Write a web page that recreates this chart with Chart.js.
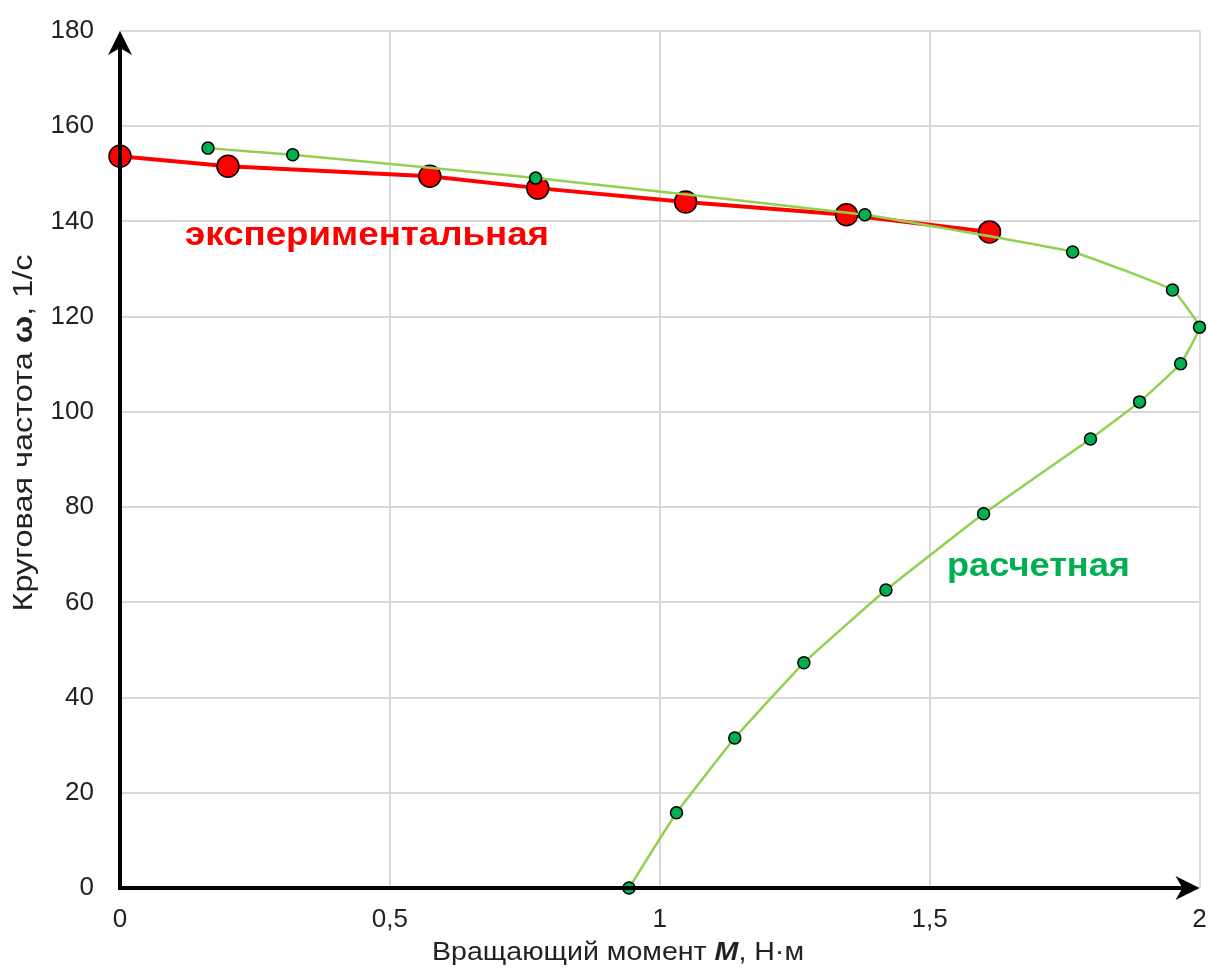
<!DOCTYPE html>
<html>
<head>
<meta charset="utf-8">
<script src="https://cdn.jsdelivr.net/npm/chart.js@4/dist/chart.umd.min.js"></script>
<style>
html,body{margin:0;padding:0;background:#fff;overflow:hidden;}
#wrap{width:1208px;height:969px;position:relative;overflow:hidden;}
</style>
</head>
<body>
<div id="wrap"><canvas id="c" width="1212" height="969"></canvas></div>
<script>
const expM = [0, 0.2, 0.574, 0.774, 1.048, 1.346, 1.611];
const expW = [153.7, 151.6, 149.5, 147.0, 144.1, 141.4, 137.8];
const calcM = [0.163, 0.320, 0.770, 1.380, 1.765, 1.950, 2.0, 1.965, 1.889, 1.798, 1.600, 1.419, 1.267, 1.139, 1.031, 0.943];
const calcW = [155.4, 154.0, 149.1, 141.4, 133.6, 125.6, 117.8, 110.1, 102.1, 94.3, 78.6, 62.6, 47.3, 31.5, 15.8, 0];
const xTicks = [0, 0.5, 1, 1.5, 2];
const yTicks = [0, 20, 40, 60, 80, 100, 120, 140, 160, 180];
const labelExp = 'экспериментальная';
const labelCalc = 'расчетная';
const xTitleParts = [['Вращающий момент ', ''], ['M', 'bold italic '], [', Н·м', '']];
const yTitleParts = [['Круговая частота ', ''], ['ω', 'bold '], [', 1/с', '']];

const font = 'Liberation Sans, Arial, sans-serif';

function drawParts(ctx, parts, size, cx, cy, targetW) {
  let w = 0;
  const widths = parts.map(([t, st]) => { ctx.font = st + size + 'px ' + font; const m = ctx.measureText(t).width; w += m; return m; });
  const s = targetW / w;
  ctx.save();
  ctx.translate(cx, cy);
  ctx.scale(s, 1);
  let x = -w / 2;
  ctx.textBaseline = 'middle';
  ctx.textAlign = 'left';
  parts.forEach(([t, st], i) => { ctx.font = st + size + 'px ' + font; ctx.fillText(t, x, 0); x += widths[i]; });
  ctx.restore();
}

function drawScaled(ctx, text, fnt, x, y, targetW, color) {
  ctx.save();
  ctx.font = fnt;
  const w = ctx.measureText(text).width;
  ctx.translate(x, y);
  ctx.scale(targetW / w, 1);
  ctx.fillStyle = color;
  ctx.textBaseline = 'middle';
  ctx.textAlign = 'left';
  ctx.fillText(text, 0, 0);
  ctx.restore();
}

const arrowsPlugin = {
  id: 'arrows',
  afterDatasetsDraw(chart) {
    const {ctx, chartArea: a, scales: {x, y}} = chart;
    const x0 = x.getPixelForValue(0), y0 = y.getPixelForValue(0);
    ctx.save();
    ctx.strokeStyle = '#000';
    ctx.fillStyle = '#000';
    ctx.lineWidth = 4;
    ctx.beginPath();
    ctx.moveTo(x0, y0 + 2);
    ctx.lineTo(x0, a.top + 6);
    ctx.moveTo(x0 - 2, y0);
    ctx.lineTo(a.right - 6, y0);
    ctx.stroke();
    ctx.beginPath();
    ctx.moveTo(x0, a.top);
    ctx.lineTo(x0 - 12, a.top + 24);
    ctx.lineTo(x0, a.top + 17);
    ctx.lineTo(x0 + 12, a.top + 24);
    ctx.closePath();
    ctx.fill();
    ctx.beginPath();
    ctx.moveTo(a.right, y0);
    ctx.lineTo(a.right - 24, y0 - 12);
    ctx.lineTo(a.right - 17, y0);
    ctx.lineTo(a.right - 24, y0 + 12);
    ctx.closePath();
    ctx.fill();
    ctx.restore();
  }
};

const labelsPlugin = {
  id: 'labels',
  afterDraw(chart) {
    const {ctx} = chart;
    drawScaled(ctx, labelExp, 'bold 33px ' + font, 185, 236, 364, '#ff0000');
    drawScaled(ctx, labelCalc, 'bold 33px ' + font, 947, 567, 183, '#00b050');
    ctx.save();
    ctx.fillStyle = '#222';
    drawParts(ctx, xTitleParts, 26, 618, 953, 372);
    ctx.translate(24, 433);
    ctx.rotate(-Math.PI / 2);
    drawParts(ctx, yTitleParts, 28, 0, 0, 357);
    ctx.restore();
  }
};

const toPts = (xs, ys) => xs.map((v, i) => ({x: v, y: ys[i]}));

new Chart(document.getElementById('c'), {
  type: 'scatter',
  data: {
    datasets: [
      {
        label: labelCalc,
        data: toPts(calcM, calcW),
        showLine: true,
        borderColor: '#92d050',
        borderWidth: 2.5,
        tension: 0.1,
        pointRadius: 6,
        pointBackgroundColor: '#00b050',
        pointBorderColor: '#000',
        pointBorderWidth: 1.5
      },
      {
        label: labelExp,
        data: toPts(expM, expW),
        showLine: true,
        borderColor: '#ff0000',
        borderWidth: 4,
        tension: 0,
        pointRadius: 11,
        pointBackgroundColor: '#ff0000',
        pointBorderColor: '#000',
        pointBorderWidth: 1.5
      }
    ]
  },
  options: {
    responsive: false,
    animation: false,
    clip: false,
    layout: {padding: {top: 31, right: 3, bottom: 0, left: 0}},
    plugins: {legend: {display: false}, tooltip: {enabled: false}},
    scales: {
      x: {
        type: 'linear', min: 0, max: 2,
        afterBuildTicks(s) { s.ticks = xTicks.map(v => ({value: v})); },
        afterFit(s) { s.height = 81; s.paddingLeft = 0; s.paddingRight = 0; },
        border: {display: false},
        grid: {color: '#d9d9d9', lineWidth: 2, drawTicks: false},
        ticks: {
          color: '#222', font: {family: font, size: 26}, padding: 16, maxRotation: 0,
          callback: v => String(v).replace('.', ',')
        }
      },
      y: {
        type: 'linear', min: 0, max: 180,
        afterBuildTicks(s) { s.ticks = yTicks.map(v => ({value: v})); },
        afterFit(s) { s.width = 120; s.paddingTop = 0; s.paddingBottom = 0; },
        border: {display: false},
        grid: {color: '#d9d9d9', lineWidth: 2, drawTicks: false},
        ticks: {color: '#222', font: {family: font, size: 26}, padding: 26}
      }
    }
  },
  plugins: [arrowsPlugin, labelsPlugin]
});
</script>
</body>
</html>
